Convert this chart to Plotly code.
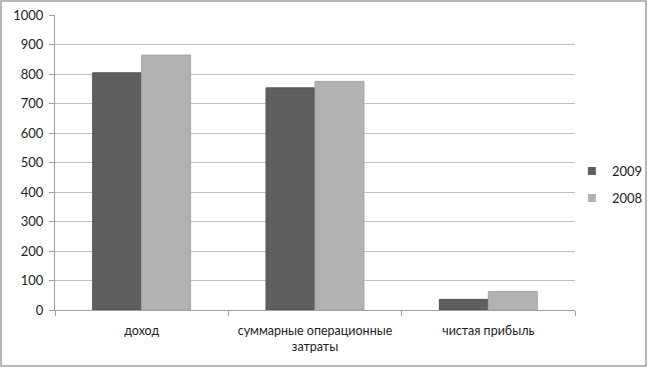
import plotly.graph_objects as go

categories = ["доход", "суммарные операционные<br>затраты", "чистая прибыль"]
series_names = ["2009", "2008"]
values_2009 = [804, 753, 36]
values_2008 = [864, 775, 63]
y_ticks = [0, 100, 200, 300, 400, 500, 600, 700, 800, 900, 1000]
colors = ["#5f5f5f", "#b2b2b2"]
edge_colors = ["#505050", "#a6a6a6"]

L, R, T, B = 55, 73, 15, 60
W, H = 648, 370
pw, ph = W - L - R, H - T - B

fig = go.Figure()
for name, vals, c, ec in zip(series_names, [values_2009, values_2008], colors, edge_colors):
    fig.add_bar(x=categories, y=vals, name=name, showlegend=False,
                marker=dict(color=c, line=dict(color=ec, width=1)))
for i, (name, c) in enumerate(zip(series_names, colors)):
    fig.add_scatter(x=[None], y=[None], name=name, mode="markers", legendgroup=str(i),
                    marker=dict(symbol="square", size=8, color=c))

fig.update_layout(
    width=W, height=H,
    margin=dict(l=L, r=R, t=T, b=B, autoexpand=False),
    paper_bgcolor="white", plot_bgcolor="white",
    font=dict(family="Lato, Open Sans, sans-serif", size=13, color="#222"),
    barmode="group", bargap=0.435, bargroupgap=0,
    legend=dict(x=0.994, y=0.425, xanchor="left", yanchor="middle",
                traceorder="grouped", tracegroupgap=7,
                font=dict(size=13), itemwidth=30, bgcolor="rgba(0,0,0,0)"),
    xaxis=dict(type="category", tickson="boundaries", ticks="outside", ticklen=5,
               tickcolor="#a0a0a0", showline=True, linecolor="#a0a0a0",
               showgrid=False, tickfont=dict(size=12.5), ticklabelstandoff=9),
    yaxis=dict(range=[0, 1000], tickvals=y_ticks, ticks="outside", ticklen=5,
               tickcolor="#a0a0a0", showline=True, linecolor="#a0a0a0",
               gridcolor="#c0c0c0", gridwidth=1, zeroline=False,
               tickfont=dict(size=13), ticklabelstandoff=3),
    shapes=[dict(type="rect", xref="paper", yref="paper",
                 x0=(1 - L) / pw, x1=(646 - L) / pw,
                 y0=(H - B - 366) / ph, y1=(H - B - 1) / ph,
                 line=dict(color="#a0a0a0", width=1.5), fillcolor="rgba(0,0,0,0)")],
)

fig.write_html("out.html", config={"displayModeBar": False},
               post_script="document.body.style.margin='0';")
